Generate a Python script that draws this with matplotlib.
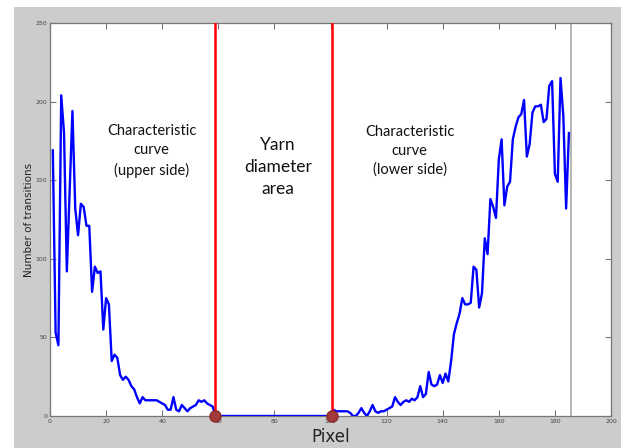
import matplotlib
matplotlib.use("Agg")
import matplotlib.pyplot as plt
from matplotlib.patches import Rectangle
import numpy as np

# ---- data ----
upper_x = list(range(1, 60))
upper_y = [169, 53, 45, 204, 180, 92, 143, 194, 132, 115,
           135, 133, 121, 121, 79, 95, 91, 92, 55, 75,
           71, 35, 39, 37, 26, 23, 25, 23, 19, 17,
           12, 8, 12, 10, 10, 10, 10, 10, 9, 8,
           7, 4, 4, 12, 4, 3, 7, 5, 3, 5,
           6, 7, 10, 9, 10, 8, 7, 6, 0]
gap_x = list(range(60, 101))
gap_y = [0] * len(gap_x)
lower_x = list(range(101, 186))
lower_y = [4, 3, 3, 3, 3, 3, 2, 0, 0, 2,
           5, 2, 0, 3, 7, 3, 2, 3, 3, 4,
           5, 6, 12, 9, 7, 9, 10, 9, 11, 10,
           12, 19, 12, 14, 28, 20, 19, 20, 26, 21,
           27, 22, 35, 52, 59, 65, 75, 71, 71, 72,
           95, 93, 69, 78, 113, 103, 138, 133, 126, 163,
           176, 134, 146, 149, 176, 184, 190, 192, 201, 165,
           173, 193, 197, 197, 198, 187, 189, 210, 213, 154,
           149, 215, 191, 132, 180]

pixel = upper_x + gap_x + lower_x
transitions = upper_y + gap_y + lower_y

boundaries = [59, 100.5]
end_line = 185.6

x_ticks = [0, 20, 40, 60, 80, 100, 120, 140, 160, 180, 200]
y_ticks = [0, 50, 100, 150, 200, 250]

labels = ["Characteristic\ncurve\n(upper side)",
          "Yarn\ndiameter\narea",
          "Characteristic\ncurve\n(lower side)"]
label_x = [36.2, 81.3, 128.2]
label_y = [168.6, 158.4, 168.6]
label_size = [10.5, 12.5, 10.5]

# ---- figure ----
fig = plt.figure(figsize=(6.21, 4.48), dpi=100, facecolor="white")
bg = Rectangle((14 / 621, 0), 1 - 14 / 621, 441 / 448,
               transform=fig.transFigure, facecolor="#cccccc",
               edgecolor="none", zorder=-10)
fig.patches.append(bg)

ax = fig.add_axes([50 / 621, (448 - 416) / 448, 561 / 621, 393 / 448])
ax.set_zorder(1)
ax.set_facecolor("white")

ax.plot(pixel, transitions, color="#0000ff", lw=1.7, zorder=3)
for b in boundaries:
    ax.plot([b, b], [0, 250], color="#ff0000", lw=1.8, zorder=4)
    ax.plot([b], [0], marker="o", ms=8, mfc="#a33a3a", mec="#8a2a2a",
            mew=1, clip_on=False, zorder=6)
ax.plot([end_line, end_line], [0, 250], color="#b0b0b0", lw=1.3, zorder=2)

for t, x, y, s in zip(labels, label_x, label_y, label_size):
    ax.text(x, y, t, ha="center", va="center", fontsize=s,
            family=["Lato", "DejaVu Sans"], linespacing=1.45, color="#111111")

ax.set_xlim(0, 200)
ax.set_ylim(0, 250)
ax.set_xticks(x_ticks)
ax.set_yticks(y_ticks)
ax.tick_params(direction="in", length=4, width=0.8, color="#777777",
               labelsize=4.5, labelcolor="#444444", top=True, right=True,
               pad=2)
for sp in ax.spines.values():
    sp.set_color("#777777")
    sp.set_linewidth(0.9)

ax.set_xlabel("Pixel", fontsize=12,
              family=["Liberation Sans Narrow", "DejaVu Sans"],
              color="#222222", labelpad=3)
ax.set_ylabel("Number of transitions", fontsize=7.5,
              family=["Liberation Sans Narrow", "DejaVu Sans"],
              color="#222222", labelpad=1)

fig.savefig("out.png", dpi=100, facecolor="white")
